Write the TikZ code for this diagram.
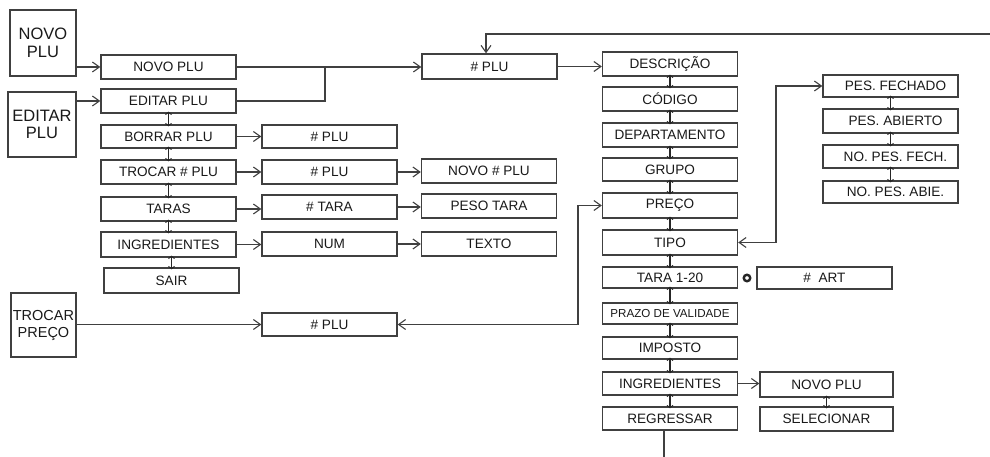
\documentclass[tikz,border=0pt]{standalone}
\usepackage{fontspec}
\setmainfont{Liberation Sans}
\usetikzlibrary{arrows.meta}
\begin{document}
\begin{tikzpicture}[x=1pt,y=-1pt,
  box/.style={draw=black!75, line width=1.4pt, inner sep=0pt, minimum width=135pt, minimum height=24pt,
    text=black!90, font=\fontsize{13.6}{14}\selectfont},
  bigbox/.style={box, font=\fontsize{16.5}{17.5}\selectfont, align=center},
  conn/.style={draw=black!75, line width=1.3pt},
  arr/.style={conn, -{Straight Barb[length=7pt,width=10pt,line width=1.1pt]}},
  dbl/.style={conn, {Straight Barb[length=7pt,width=10pt,line width=1.1pt]}-{Straight Barb[length=7pt,width=10pt,line width=1.1pt]}},
  tiny/.style={draw=black!85, line width=1.1pt, {Straight Barb[length=2.2pt,width=6pt,line width=1pt]}-{Straight Barb[length=2.2pt,width=6pt,line width=1pt]}}
]
\useasboundingbox (0,0) rectangle (990,457);
\fill[white] (0,0) rectangle (990,457);

% left big boxes
\node[bigbox, minimum width=66pt, minimum height=66pt] (bNovo) at (43,43) {NOVO\\PLU};
\node[bigbox, minimum width=68pt, minimum height=65pt] (bEdit) at (42,124.5) {EDITAR\\PLU};
\node[bigbox, minimum width=65pt, minimum height=64pt, font=\fontsize{14.5}{17}\selectfont] (bTroca) at (43.5,325) {TROCAR\\PREÇO};

% column 1
\node[box] (c1novo) at (168.5,67) {NOVO PLU};
\node[box] (c1edit) at (168.5,101) {EDITAR PLU};
\node[box, minimum height=23pt] (c1borr) at (168.5,136.5) {BORRAR PLU};
\node[box] (c1troc) at (168.5,172) {TROCAR \# PLU};
\node[box] (c1tara) at (168.5,209) {TARAS};
\node[box, minimum height=25pt] (c1ingr) at (168.5,244.5) {INGREDIENTES};
\node[box, minimum height=25pt] (c1sair) at (171.5,280.5) {SAIR};

% column 2
\node[box, minimum height=23pt] (c2borr) at (329.5,136.5) {\# PLU};
\node[box] (c2troc) at (329.5,172) {\# PLU};
\node[box] (c2tara) at (329.5,207) {\# TARA};
\node[box] (c2num) at (329.5,244) {NUM};
\node[box, minimum height=23pt] (c2preco) at (329.5,324.5) {\# PLU};

% column 3
\node[box] (c3troc) at (489,171) {NOVO \# PLU};
\node[box] (c3tara) at (489,206) {PESO TARA};
\node[box] (c3texto) at (489,244) {TEXTO};
\node[box, minimum height=25pt] (plu) at (489.5,66.5) {\# PLU};

% column 4
\node[box] (desc) at (670,64) {DESCRIÇÃO};
\node[box] (cod) at (670,99) {CÓDIGO};
\node[box] (dept) at (670,135) {DEPARTAMENTO};
\node[box, minimum height=23pt] (grupo) at (670,169.5) {GRUPO};
\node[box, minimum height=25pt] (preco) at (670,205.5) {PREÇO};
\node[box, minimum height=25pt] (tipo) at (670,242.5) {TIPO};
\node[box, minimum height=21pt] (tara) at (670,277.5) {TARA 1-20};
\node[box, minimum height=21pt, font=\fontsize{11.6}{12}\selectfont] (prazo) at (670,313.5) {PRAZO DE VALIDADE};
\node[box, minimum height=22pt] (imposto) at (670,348) {IMPOSTO};
\node[box, minimum height=23pt] (ingr) at (670,383.5) {INGREDIENTES};
\node[box, minimum height=23pt] (regr) at (670,418.5) {REGRESSAR};

% column 5
\node[box, minimum width=133pt, minimum height=25pt] (novo5) at (826.5,384.5) {NOVO PLU};
\node[box, minimum width=133pt, minimum height=24pt] (selec) at (826.5,419) {SELECIONAR};
\node[box, minimum height=22pt] (art) at (824.5,278) {\#\ \ ART};

% column 6
\node[box, minimum height=22pt] (fech) at (890.5,86) {\hspace{10pt}PES. FECHADO};
\node[box, minimum height=24pt] (abier) at (890.5,121) {\hspace{10pt}PES. ABIERTO};
\node[box, minimum height=23pt] (nofech) at (890.5,156.5) {\hspace{10pt}NO. PES. FECH.};
\node[box, minimum height=22pt] (noabie) at (890.5,192) {\hspace{10pt}NO. PES. ABIE.};

% helper coordinates
\coordinate (j) at (325,67);
\coordinate (topR) at (990,34);
\coordinate (topD) at (486,0);
\coordinate (k) at (776,0);
\coordinate (m) at (578,0);
\coordinate (bot) at (664,457);

% connectors
\draw[arr] (bNovo.east |- c1novo.west) -- (c1novo.west);
\draw[arr] (bEdit.east |- c1edit.west) -- (c1edit.west);
\draw[arr] (bTroca.east |- c2preco.west) -- (c2preco.west);
\draw[arr] (c1novo.east) -- (c1novo.east -| plu.west);
\draw[conn] (c1edit.east) -| (j);
\draw[arr] (plu.east) -- (plu.east -| desc.west);
\draw[arr] (topR) -| (topD |- plu.north);
\draw[arr] (c1borr.east) -- (c2borr.west);
\draw[arr] (c1troc.east) -- (c1troc.east -| c2troc.west);
\draw[arr] (c2troc.east) -- (c2troc.east -| c3troc.west);
\draw[arr] (c1tara.east) -- (c1tara.east -| c2tara.west);
\draw[arr] (c2tara.east) -- (c2tara.east -| c3tara.west);
\draw[arr] (c1ingr.east) -- (c1ingr.east -| c2num.west);
\draw[arr] (c2num.east) -- (c3texto.west);
\draw[arr] (ingr.east) -- (ingr.east -| novo5.west);
\draw[dbl] (tipo.east) -- (tipo.east -| k) -- (k |- fech.west) -- (fech.west);
\draw[dbl] (c2preco.east) -- (c2preco.east -| m) -- (m |- preco.west) -- (preco.west);
\draw[conn] (regr.south -| bot) -- (bot);

% small up-down arrows
\foreach \a/\b in {c1edit/c1borr, c1borr/c1troc, c1troc/c1tara, c1tara/c1ingr,
  desc/cod, cod/dept, dept/grupo, grupo/preco, preco/tipo, tipo/tara, tara/prazo, prazo/imposto, imposto/ingr, ingr/regr,
  novo5/selec, fech/abier, abier/nofech, nofech/noabie}
  \draw[tiny] ([yshift=2pt]\a.south) -- ([yshift=-2pt]\b.north -| \a.south);
\draw[tiny] ([yshift=2pt]c1sair.north |- c1ingr.south) -- ([yshift=-2pt]c1sair.north);

% link glyph between TARA 1-20 and # ART
\node[circle, draw=black!85, line width=2.4pt, inner sep=0pt, minimum size=6.5pt] (lnk) at (747,278) {};
\end{tikzpicture}
\end{document}
